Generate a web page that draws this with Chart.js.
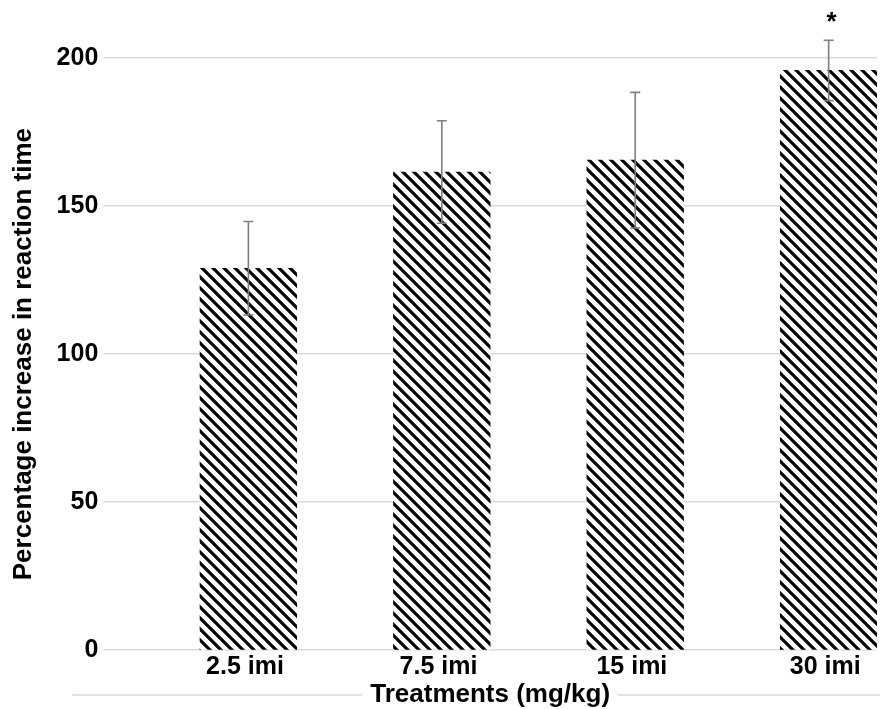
<!DOCTYPE html>
<html>
<head>
<meta charset="utf-8">
<script src="https://cdn.jsdelivr.net/npm/chart.js@4"></script>
<style>
  html, body { margin: 0; padding: 0; background: #fff; }
  #wrap { width: 880px; height: 709px; position: relative; }
</style>
</head>
<body>
<div id="wrap"><canvas id="c"></canvas></div>
<script>
// ---- data ----
const categories = ['2.5 imi', '7.5 imi', '15 imi', '30 imi'];
const meanValues = [129, 161.5, 165.5, 195.8];
const sdValues = [15.8, 17.3, 22.9, 10.2];
const significance = ['', '', '', '*'];
const yTickValues = [0, 50, 100, 150, 200];
const xTitle = 'Treatments (mg/kg)';
const yTitle = 'Percentage increase in reaction time';

const FONT = '"Liberation Sans", Arial, Helvetica, sans-serif';

function makeHatch() {
  const s = 11;
  const c = document.createElement('canvas');
  c.width = s; c.height = s;
  const g = c.getContext('2d');
  g.fillStyle = '#fff';
  g.fillRect(0, 0, s, s);
  g.strokeStyle = '#000';
  g.lineWidth = 3.2;
  g.beginPath();
  for (let k = -2; k <= 2; k++) {
    const off = k * s;
    g.moveTo(-10, -10 + off);
    g.lineTo(s + 10, s + 10 + off);
  }
  g.stroke();
  return g.createPattern(c, 'repeat');
}

const errorBarPlugin = {
  id: 'errorBars',
  afterDatasetsDraw(chart) {
    const meta = chart.getDatasetMeta(1);
    const y = chart.scales.y;
    const ctx = chart.ctx;
    ctx.save();
    meta.data.forEach((bar, i) => {
      const x = bar.x;
      const top = y.getPixelForValue(meanValues[i] + sdValues[i]);
      const bot = y.getPixelForValue(meanValues[i] - sdValues[i]);
      ctx.strokeStyle = '#7f7f7f';
      ctx.lineWidth = 1.6;
      ctx.beginPath();
      ctx.moveTo(x, top); ctx.lineTo(x, bot);
      ctx.moveTo(x - 5, top); ctx.lineTo(x + 5, top);
      ctx.moveTo(x - 5, bot); ctx.lineTo(x + 5, bot);
      ctx.stroke();
      if (significance[i]) {
        ctx.fillStyle = '#000';
        ctx.font = 'bold 26px ' + FONT;
        ctx.textAlign = 'center';
        ctx.textBaseline = 'alphabetic';
        ctx.fillText(significance[i], x + 3, top - 10);
      }
    });
    ctx.restore();
  },
  afterDraw(chart) {
    // decorative rule running through the x axis title
    const ctx = chart.ctx;
    const area = chart.chartArea;
    const xs = chart.scales.x;
    ctx.save();
    ctx.font = 'bold 26px ' + FONT;
    const w = ctx.measureText(xTitle).width;
    const cx = (xs.left + xs.right) / 2;
    const ly = chart.height - 14;
    ctx.strokeStyle = '#d9d9d9';
    ctx.lineWidth = 1.5;
    ctx.beginPath();
    ctx.moveTo(area.left - 31, ly); ctx.lineTo(cx - w / 2 - 8, ly);
    ctx.moveTo(cx + w / 2 + 8, ly); ctx.lineTo(chart.width, ly);
    ctx.stroke();
    ctx.restore();
  }
};

const hatch = makeHatch();

new Chart(document.getElementById('c'), {
  type: 'bar',
  data: {
    labels: categories,
    datasets: [
      { label: 'spacer', data: categories.map(() => null), backgroundColor: 'rgba(0,0,0,0)' },
      { label: 'Treatment', data: meanValues, backgroundColor: hatch, borderWidth: 0 }
    ]
  },
  options: {
    responsive: true,
    maintainAspectRatio: false,
    animation: false,
    categoryPercentage: 1.0,
    barPercentage: 1.0,
    layout: { padding: { left: 5, right: 3, top: 58, bottom: 1 } },
    plugins: { legend: { display: false }, tooltip: { enabled: false } },
    scales: {
      x: {
        grid: { display: false },
        border: { display: false },
        ticks: {
          color: '#000',
          font: { family: FONT, size: 25, weight: 'bold', lineHeight: 1.1 },
          padding: -5,
          labelOffset: 45,
          maxRotation: 0
        },
        title: {
          display: true,
          text: xTitle,
          color: '#000',
          font: { family: FONT, size: 26, weight: 'bold', lineHeight: 1.05 },
          padding: { top: 5, bottom: 0 }
        }
      },
      y: {
        min: 0,
        max: 200,
        afterBuildTicks(scale) { scale.ticks = yTickValues.map(v => ({ value: v })); },
        grid: { color: '#d9d9d9', lineWidth: 1.5, drawTicks: false },
        border: { display: false },
        ticks: {
          color: '#000',
          font: { family: FONT, size: 25, weight: 'bold', lineHeight: 1.1 },
          padding: 5
        },
        title: {
          display: true,
          text: yTitle,
          color: '#000',
          font: { family: FONT, size: 26, weight: 'bold', lineHeight: 1.1 },
          padding: { top: 5, bottom: 13 }
        }
      }
    }
  },
  plugins: [errorBarPlugin]
});
</script>
</body>
</html>
